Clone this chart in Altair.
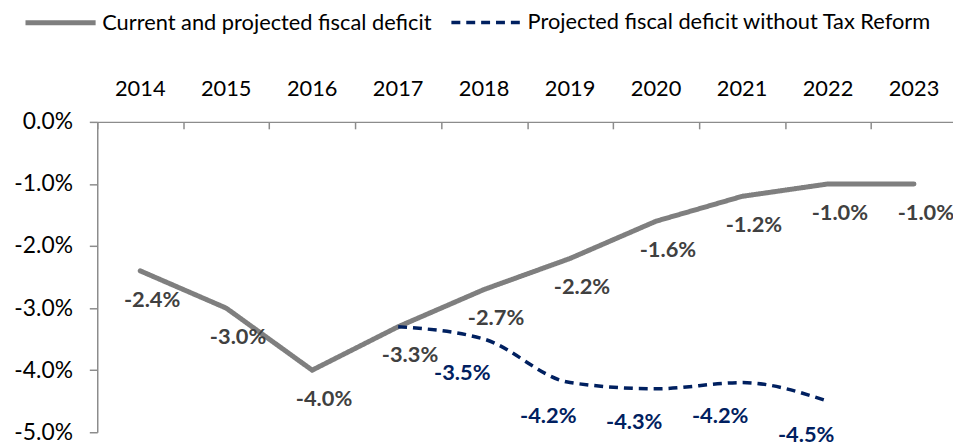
import altair as alt
import pandas as pd

years = ["2014", "2015", "2016", "2017", "2018", "2019", "2020", "2021", "2022", "2023"]
current = [-2.4, -3.0, -4.0, -3.3, -2.7, -2.2, -1.6, -1.2, -1.0, -1.0]
no_reform_years = ["2017", "2018", "2019", "2020", "2021", "2022"]
no_reform = [-3.3, -3.5, -4.2, -4.3, -4.2, -4.5]
y_ticks = [0.0, -1.0, -2.0, -3.0, -4.0, -5.0]

S1 = "Current and projected fiscal deficit"
S2 = "Projected fiscal deficit without Tax Reform"
GRAY = "#7f7f7f"
NAVY = "#002060"
AXIS = "#8c8c8c"
FONT = "Lato"
H = 313

rows = [{"series": S1, "year": y, "v": v / 100} for y, v in zip(years, current)]
rows += [{"series": S2, "year": y, "v": v / 100} for y, v in zip(no_reform_years, no_reform)]
df = pd.DataFrame(rows)

x_scale = alt.Scale(type="band", domain=years, paddingInner=0, paddingOuter=0, range=[0, 867])
y_scale = alt.Scale(domain=[-0.05, 0], nice=False, zero=False)

x_top = alt.X("year:N", scale=x_scale,
              axis=alt.Axis(orient="top", title=None, labelAngle=0, ticks=False,
                            labelAlign="center", labelFontSize=22, labelColor="#000000",
                            labelFont=FONT, labelPadding=22, domainColor=AXIS, domainWidth=1.5))
# tick marks hanging below the top axis line, at the category boundaries
x_ticks = alt.X("year:N", scale=x_scale,
                axis=alt.Axis(orient="bottom", offset=-H, title=None, labels=False, domain=False,
                              ticks=True, tickBand="extent", tickSize=7, tickColor=AXIS,
                              tickWidth=1.5))
x_none = alt.X("year:N", scale=x_scale, axis=None)

y_enc = alt.Y("v:Q", scale=y_scale,
              axis=alt.Axis(title=None, values=[t / 100 for t in y_ticks], format=".1%",
                            labelExpr="replace(datum.label, '\u2212', '-')",
                            grid=False, tickSize=8, tickColor=AXIS, tickWidth=1.5,
                            domainColor=AXIS, domainWidth=1.5, labelFontSize=23,
                            labelColor="#000000", labelFont=FONT, labelPadding=17))

legend = alt.Legend(title=None, orient="none", legendX=-75, legendY=-138, direction="horizontal",
                    symbolType="stroke", symbolSize=5000, labelFontSize=22, labelFont=FONT,
                    labelColor="#000000", labelLimit=700, columnPadding=12, symbolOffset=0,
                    labelOffset=4)

color = alt.Color("series:N", scale=alt.Scale(domain=[S1, S2], range=[GRAY, NAVY]), legend=legend)
dash = alt.StrokeDash("series:N", scale=alt.Scale(domain=[S1, S2], range=[[1, 0], [9, 6]]), legend=legend)
width_enc = alt.StrokeWidth("series:N", scale=alt.Scale(domain=[S1, S2], range=[5, 3.5]), legend=legend)

base = alt.Chart(df).transform_calculate(
    lbl="replace(format(datum.v, '.1%'), '\u2212', '-')")

line1 = base.transform_filter(alt.datum.series == S1).mark_line(strokeCap="round").encode(
    x=x_top, y=y_enc, color=color, strokeDash=dash, strokeWidth=width_enc)
line2 = base.transform_filter(alt.datum.series == S2).mark_line(interpolate="monotone").encode(
    x=x_ticks, y=y_enc, color=color, strokeDash=dash, strokeWidth=width_enc)

lab1 = base.transform_filter(alt.datum.series == S1).mark_text(
    font=FONT, fontSize=22, fontWeight="bold", color="#404040", dx=12, dy=29).encode(
    x=x_none, y=y_enc, text="lbl:N")
lab2 = base.transform_filter((alt.datum.series == S2) & (alt.datum.year != "2017")).mark_text(
    font=FONT, fontSize=22, fontWeight="bold", color=NAVY, dx=-22, dy=34).encode(
    x=x_none, y=y_enc, text="lbl:N")

chart = alt.layer(line1, line2, lab1, lab2).resolve_axis(x="independent").properties(
    width=863, height=H,
    autosize=alt.AutoSizeParams(type="none"),
    padding={"left": 90, "top": 113, "right": 0, "bottom": 8},
).configure_view(stroke=None)

chart.save("out.html", embed_options={"renderer": "svg", "actions": False})
